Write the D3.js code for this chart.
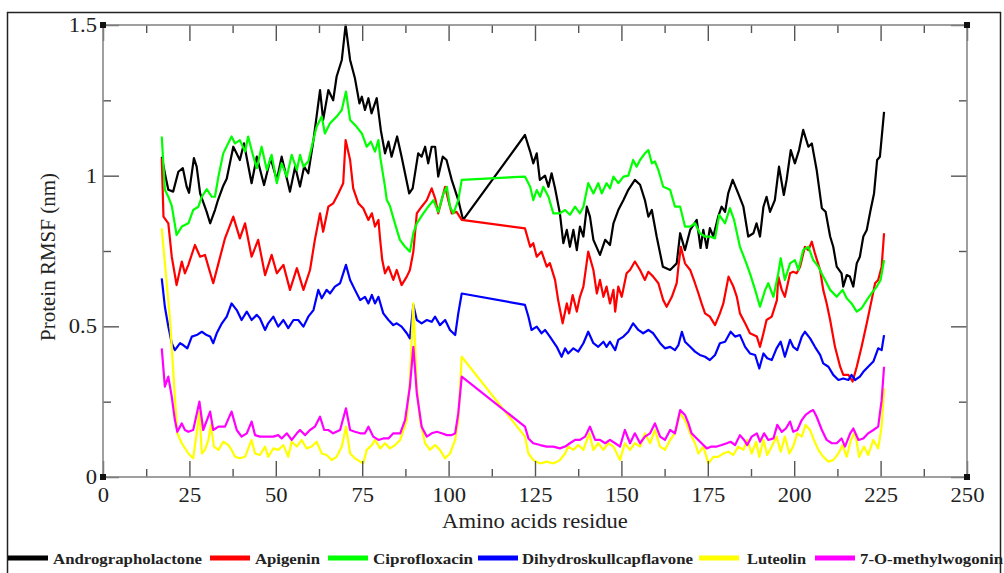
<!DOCTYPE html>
<html>
<head>
<meta charset="utf-8">
<script src="https://cdn.jsdelivr.net/npm/d3@7/dist/d3.min.js"></script>
<style>
  html, body { margin: 0; padding: 0; background: #fff; }
  svg { display: block; }
  .tick text { font-family: "Liberation Serif", "Times New Roman", serif; }
</style>
</head>
<body>
<svg id="chart" width="1004" height="573"></svg>
<script>
// Protein RMSF per residue, [residue, RMSF (nm)]
const andrographolactone = [[17.0,1.063],[17.9,1.008],[18.9,0.953],[20.3,0.947],[21.8,1.013],[23.1,1.025],[24.2,0.964],[24.9,0.943],[26.3,1.058],[27.1,1.03],[28.1,0.941],[30.0,0.88],[31.0,0.842],[32.4,0.886],[33.3,0.92],[34.7,0.964],[35.8,0.99],[37.7,1.096],[39.6,1.052],[40.8,1.107],[43.0,0.975],[44.5,1.063],[46.6,0.969],[48.5,1.058],[50.3,0.986],[51.7,1.063],[54.1,0.947],[55.6,1.03],[57.0,0.964],[58.2,1.03],[59.4,1.008],[60.9,1.118],[62.8,1.284],[63.7,1.185],[65.2,1.284],[66.6,1.25],[67.6,1.329],[69.1,1.384],[70.2,1.5],[71.5,1.384],[72.9,1.323],[74.2,1.24],[74.9,1.262],[75.8,1.218],[76.8,1.257],[77.7,1.207],[79.2,1.257],[80.4,1.15],[81.6,1.074],[82.6,1.113],[83.5,1.063],[85.1,1.13],[86.4,1.063],[88.6,0.941],[89.6,0.958],[91.2,1.074],[92.2,1.063],[93.2,1.096],[94.1,1.041],[95.1,1.096],[96.1,1.096],[97.0,0.997],[98.3,1.063],[99.4,1.052],[100.9,0.986],[102.8,0.919],[104.2,0.853],[122.1,1.135],[123.6,1.08],[124.5,1.041],[125.5,1.074],[126.4,0.986],[127.9,1.0],[128.9,0.963],[129.8,1.008],[130.8,0.958],[132.2,0.875],[133.2,0.776],[134.2,0.82],[135.1,0.764],[136.1,0.82],[137.1,0.753],[138.0,0.831],[139.0,0.798],[140.0,0.897],[140.9,0.864],[141.9,0.787],[143.8,0.737],[145.3,0.787],[146.7,0.77],[147.7,0.842],[149.1,0.886],[150.6,0.919],[152.0,0.953],[153.9,0.986],[155.4,0.97],[156.8,0.919],[157.8,0.864],[158.8,0.886],[160.2,0.798],[162.0,0.698],[164.1,0.687],[166.0,0.709],[167.0,0.809],[168.4,0.753],[169.9,0.82],[171.8,0.853],[172.9,0.76],[173.7,0.82],[174.7,0.76],[175.6,0.826],[176.6,0.798],[178.0,0.864],[179.0,0.897],[180.0,0.88],[180.9,0.941],[182.2,0.986],[183.8,0.941],[185.3,0.897],[186.7,0.798],[188.2,0.809],[189.1,0.842],[190.1,0.798],[191.1,0.897],[192.0,0.93],[193.0,0.88],[194.4,0.919],[195.6,1.03],[197.0,0.936],[197.8,0.986],[199.0,1.085],[200.2,1.041],[201.4,1.085],[202.6,1.152],[204.1,1.096],[205.1,1.107],[206.5,1.019],[208.0,0.892],[209.1,0.88],[210.4,0.798],[211.3,0.764],[212.3,0.698],[213.7,0.676],[214.2,0.632],[215.2,0.67],[216.1,0.665],[217.1,0.632],[218.1,0.709],[219.0,0.731],[220.0,0.798],[221.0,0.82],[222.1,0.886],[223.1,0.941],[224.0,1.052],[224.8,1.063],[226.0,1.212]];

const apigenin = [[17.0,1.058],[17.5,0.864],[18.9,0.842],[19.9,0.731],[21.3,0.637],[22.8,0.715],[23.7,0.676],[24.7,0.704],[26.6,0.77],[28.1,0.731],[29.5,0.737],[31.9,0.643],[33.4,0.709],[35.3,0.792],[37.7,0.864],[39.6,0.792],[41.1,0.842],[43.0,0.731],[44.9,0.787],[46.9,0.67],[48.8,0.737],[50.3,0.676],[52.2,0.704],[54.1,0.621],[56.1,0.693],[58.0,0.621],[59.9,0.687],[61.3,0.787],[62.8,0.875],[63.7,0.814],[65.2,0.897],[66.6,0.908],[68.1,0.941],[69.5,0.975],[70.2,1.118],[71.5,1.052],[72.4,0.958],[73.9,0.908],[75.3,0.892],[76.8,0.853],[77.8,0.875],[78.7,0.831],[79.7,0.853],[80.2,0.787],[80.8,0.72],[81.6,0.676],[82.6,0.698],[84.0,0.654],[85.0,0.687],[86.4,0.637],[87.9,0.665],[88.8,0.687],[89.8,0.748],[90.8,0.875],[92.2,0.897],[93.7,0.919],[95.1,0.958],[96.1,0.925],[97.0,0.875],[99.0,0.963],[99.9,0.919],[100.9,0.875],[102.3,0.88],[103.8,0.853],[122.1,0.825],[123.6,0.764],[124.5,0.776],[125.5,0.731],[126.9,0.748],[128.4,0.698],[129.3,0.71],[130.8,0.654],[131.7,0.587],[133.0,0.51],[134.2,0.576],[134.9,0.543],[135.9,0.604],[137.1,0.549],[138.0,0.598],[139.0,0.632],[140.4,0.748],[141.9,0.687],[142.9,0.609],[143.8,0.654],[144.8,0.598],[145.7,0.632],[146.7,0.576],[147.7,0.621],[148.2,0.549],[149.1,0.632],[150.1,0.598],[151.5,0.676],[152.5,0.687],[153.9,0.715],[155.4,0.687],[156.8,0.654],[157.8,0.681],[159.2,0.665],[160.7,0.643],[162.1,0.587],[163.1,0.565],[164.6,0.598],[166.0,0.643],[166.5,0.698],[167.2,0.764],[168.4,0.709],[169.9,0.687],[171.3,0.643],[172.3,0.609],[173.2,0.576],[174.2,0.543],[175.6,0.532],[177.1,0.504],[178.5,0.543],[179.5,0.576],[181.0,0.665],[182.4,0.632],[183.4,0.598],[184.3,0.543],[185.8,0.51],[187.2,0.477],[189.2,0.466],[190.1,0.432],[191.1,0.477],[192.0,0.521],[193.5,0.532],[195.0,0.587],[195.4,0.665],[196.4,0.621],[197.3,0.598],[198.8,0.676],[199.7,0.681],[200.7,0.676],[201.7,0.698],[203.1,0.764],[204.1,0.753],[205.1,0.781],[206.0,0.742],[207.5,0.687],[208.4,0.621],[209.4,0.576],[210.4,0.521],[211.8,0.432],[213.3,0.366],[214.2,0.339],[215.7,0.339],[216.9,0.317],[218.1,0.366],[219.5,0.432],[221.0,0.51],[222.4,0.587],[223.4,0.643],[224.3,0.654],[225.3,0.698],[226.0,0.809]];

const ciprofloxacin = [[17.0,1.13],[17.9,0.953],[18.9,0.93],[19.9,0.9],[21.3,0.803],[22.8,0.831],[24.7,0.842],[26.1,0.886],[27.6,0.897],[28.6,0.93],[30.0,0.955],[31.5,0.93],[32.4,0.93],[33.4,0.997],[34.8,1.074],[37.2,1.13],[38.2,1.107],[39.6,1.118],[41.1,1.08],[42.0,1.13],[43.5,1.063],[44.5,1.025],[45.9,1.096],[47.4,1.019],[48.8,1.069],[50.3,0.975],[51.7,1.041],[53.2,0.997],[54.6,1.069],[56.1,1.019],[57.0,1.069],[58.0,1.03],[59.4,1.047],[60.4,1.096],[61.8,1.162],[63.3,1.196],[64.2,1.14],[65.7,1.174],[67.6,1.196],[69.1,1.218],[70.3,1.279],[71.5,1.185],[73.4,1.162],[74.9,1.14],[76.3,1.096],[77.5,1.113],[78.7,1.08],[79.7,1.118],[80.2,1.063],[81.6,0.963],[82.1,0.92],[83.0,0.9],[84.0,0.86],[85.9,0.787],[87.4,0.764],[88.8,0.748],[89.8,0.809],[90.8,0.842],[92.7,0.875],[94.1,0.897],[95.6,0.919],[97.0,0.88],[98.5,0.941],[99.5,0.963],[100.4,0.897],[101.4,0.875],[102.8,0.919],[103.8,0.986],[122.1,0.997],[123.6,0.963],[124.5,0.919],[125.5,0.952],[126.5,0.93],[127.4,0.963],[128.9,0.93],[130.3,0.875],[132.2,0.875],[133.7,0.886],[135.1,0.87],[136.6,0.897],[138.0,0.875],[139.0,0.897],[140.4,0.975],[141.9,0.941],[143.3,0.975],[144.3,0.941],[145.7,0.975],[146.7,0.958],[147.7,0.997],[149.1,0.975],[150.6,0.997],[152.0,1.0],[153.4,1.052],[154.4,1.03],[155.4,1.052],[156.8,1.074],[157.8,1.085],[158.8,1.041],[159.7,1.047],[160.7,1.019],[162.1,0.963],[164.1,0.953],[165.5,0.897],[167.0,0.897],[168.4,0.831],[169.9,0.831],[171.3,0.842],[172.7,0.809],[174.2,0.798],[175.6,0.798],[177.1,0.792],[178.3,0.87],[180.0,0.842],[181.4,0.892],[182.6,0.853],[184.3,0.764],[185.8,0.72],[187.2,0.676],[188.7,0.621],[190.1,0.565],[191.6,0.621],[192.5,0.643],[194.0,0.598],[195.4,0.676],[196.1,0.726],[197.3,0.654],[198.8,0.709],[200.2,0.72],[201.2,0.687],[202.6,0.753],[204.1,0.764],[205.5,0.72],[207.0,0.698],[208.4,0.665],[210.4,0.621],[212.3,0.598],[214.0,0.621],[215.2,0.593],[216.6,0.576],[218.1,0.549],[219.5,0.56],[221.0,0.587],[222.4,0.61],[223.9,0.632],[225.0,0.654],[226.0,0.72]];

const dihydroskullcapflavone = [[17.0,0.659],[17.9,0.565],[18.9,0.499],[19.9,0.444],[20.8,0.421],[22.3,0.444],[23.2,0.438],[24.4,0.427],[25.7,0.466],[27.1,0.471],[28.6,0.482],[30.0,0.471],[31.0,0.466],[31.9,0.444],[32.9,0.477],[34.4,0.51],[35.8,0.532],[37.2,0.576],[38.7,0.554],[40.1,0.521],[41.6,0.549],[43.0,0.521],[44.5,0.538],[45.4,0.527],[46.9,0.488],[47.8,0.51],[49.3,0.532],[50.7,0.499],[52.2,0.521],[53.6,0.494],[55.1,0.521],[56.5,0.521],[58.0,0.499],[59.4,0.532],[60.9,0.554],[62.3,0.621],[63.3,0.593],[64.7,0.621],[65.7,0.609],[67.1,0.632],[68.6,0.643],[70.3,0.704],[71.5,0.654],[72.9,0.621],[74.4,0.587],[75.8,0.598],[76.8,0.576],[77.8,0.604],[78.7,0.576],[79.7,0.598],[81.1,0.543],[82.6,0.521],[84.0,0.504],[85.0,0.51],[86.4,0.499],[87.9,0.477],[88.8,0.46],[89.8,0.571],[90.8,0.521],[92.2,0.51],[93.7,0.521],[95.1,0.515],[96.1,0.532],[97.5,0.504],[99.0,0.521],[100.4,0.488],[101.9,0.471],[102.8,0.543],[103.8,0.609],[122.1,0.571],[123.1,0.532],[124.0,0.488],[125.5,0.499],[126.9,0.477],[127.9,0.488],[129.3,0.466],[131.3,0.432],[132.7,0.399],[133.7,0.427],[134.6,0.41],[136.1,0.427],[137.5,0.416],[139.0,0.444],[140.4,0.482],[141.9,0.444],[143.3,0.432],[144.8,0.449],[145.7,0.432],[146.7,0.449],[148.2,0.421],[149.1,0.455],[150.6,0.466],[152.0,0.482],[153.4,0.51],[154.9,0.488],[156.3,0.477],[157.8,0.488],[159.2,0.477],[161.2,0.444],[162.6,0.427],[164.1,0.432],[165.5,0.421],[166.5,0.438],[167.5,0.482],[168.4,0.449],[169.9,0.432],[171.3,0.416],[172.7,0.405],[174.2,0.399],[175.6,0.388],[177.1,0.405],[178.5,0.444],[180.0,0.449],[181.6,0.482],[182.9,0.466],[184.3,0.471],[185.8,0.432],[187.2,0.41],[188.7,0.405],[189.9,0.36],[191.1,0.41],[192.2,0.394],[193.5,0.388],[194.9,0.427],[196.1,0.449],[197.3,0.399],[198.8,0.455],[199.7,0.432],[200.9,0.421],[202.2,0.466],[203.1,0.482],[204.6,0.46],[206.0,0.432],[207.5,0.405],[208.4,0.377],[209.9,0.366],[211.3,0.339],[212.8,0.322],[214.2,0.327],[215.7,0.322],[216.6,0.339],[217.6,0.322],[219.0,0.333],[220.0,0.349],[221.4,0.366],[222.9,0.383],[224.3,0.427],[225.3,0.421],[226.0,0.471]];

const luteolin = [[17.0,0.825],[19.4,0.52],[20.8,0.266],[21.5,0.145],[22.8,0.112],[24.7,0.078],[26.1,0.062],[27.1,0.145],[27.9,0.217],[28.6,0.078],[29.5,0.09],[30.5,0.123],[31.2,0.173],[32.1,0.101],[33.4,0.09],[34.8,0.117],[36.3,0.106],[37.2,0.09],[38.2,0.067],[39.6,0.062],[41.1,0.067],[43.0,0.123],[44.0,0.078],[45.4,0.073],[46.9,0.101],[47.8,0.067],[49.3,0.095],[50.7,0.09],[52.2,0.106],[53.6,0.067],[54.6,0.117],[56.1,0.101],[57.5,0.123],[58.9,0.095],[60.4,0.101],[61.8,0.117],[63.3,0.078],[64.7,0.073],[66.2,0.056],[67.6,0.067],[69.1,0.101],[70.3,0.167],[71.5,0.078],[72.9,0.062],[74.4,0.051],[75.3,0.045],[76.3,0.09],[77.8,0.106],[78.7,0.123],[80.2,0.095],[81.6,0.112],[83.0,0.095],[84.5,0.106],[86.0,0.123],[87.9,0.189],[88.8,0.322],[89.8,0.576],[90.8,0.3],[91.7,0.189],[93.2,0.112],[94.6,0.09],[96.1,0.106],[97.5,0.09],[99.0,0.062],[100.4,0.078],[101.9,0.123],[102.8,0.189],[103.8,0.399],[122.1,0.134],[123.1,0.078],[124.5,0.056],[126.5,0.045],[128.4,0.051],[130.3,0.045],[132.2,0.056],[133.7,0.078],[134.6,0.101],[136.1,0.09],[137.5,0.106],[139.0,0.09],[140.7,0.145],[141.9,0.09],[143.3,0.112],[144.8,0.09],[146.2,0.112],[147.7,0.101],[149.6,0.056],[151.0,0.112],[152.5,0.09],[153.9,0.112],[155.4,0.101],[156.8,0.145],[158.3,0.112],[159.7,0.156],[161.2,0.101],[162.6,0.09],[164.1,0.123],[165.5,0.145],[167.0,0.211],[168.4,0.189],[169.9,0.145],[171.3,0.112],[172.3,0.078],[173.7,0.101],[175.2,0.045],[176.6,0.067],[178.0,0.067],[179.5,0.078],[180.9,0.084],[182.4,0.073],[183.8,0.101],[185.3,0.09],[186.4,0.123],[187.7,0.078],[189.0,0.117],[189.9,0.067],[191.1,0.123],[192.2,0.073],[193.5,0.101],[194.9,0.134],[196.1,0.084],[197.3,0.134],[198.6,0.078],[199.7,0.101],[200.9,0.145],[202.2,0.134],[203.3,0.173],[204.6,0.156],[205.7,0.123],[207.0,0.09],[208.4,0.067],[209.9,0.051],[211.3,0.056],[212.8,0.078],[214.0,0.106],[215.2,0.067],[216.4,0.123],[217.6,0.15],[218.8,0.067],[220.2,0.101],[221.4,0.073],[222.9,0.123],[224.3,0.095],[225.3,0.167],[226.0,0.294]];

const methylwogonin = [[17.0,0.427],[17.9,0.3],[18.9,0.333],[19.9,0.266],[20.8,0.189],[21.5,0.15],[22.8,0.178],[23.7,0.156],[24.7,0.15],[26.1,0.156],[27.9,0.25],[29.0,0.156],[31.0,0.217],[31.9,0.156],[33.4,0.167],[35.3,0.167],[37.2,0.217],[38.7,0.156],[40.1,0.134],[41.6,0.145],[43.0,0.184],[44.0,0.139],[45.4,0.134],[47.4,0.134],[49.3,0.134],[50.7,0.139],[51.7,0.128],[53.2,0.145],[54.6,0.123],[56.1,0.145],[57.0,0.156],[58.5,0.139],[59.9,0.156],[61.3,0.167],[62.8,0.2],[64.0,0.156],[65.2,0.156],[66.6,0.145],[68.6,0.156],[70.3,0.228],[71.5,0.156],[72.9,0.15],[74.4,0.145],[75.8,0.145],[76.8,0.167],[78.2,0.134],[79.7,0.123],[81.1,0.128],[82.6,0.128],[84.0,0.145],[86.0,0.145],[87.4,0.189],[88.8,0.3],[89.8,0.432],[90.8,0.278],[92.2,0.167],[93.7,0.134],[95.1,0.145],[96.6,0.15],[98.0,0.145],[99.5,0.139],[100.9,0.139],[101.9,0.145],[102.8,0.211],[103.8,0.333],[122.1,0.167],[123.1,0.128],[124.5,0.112],[126.5,0.106],[128.4,0.101],[130.3,0.101],[132.2,0.095],[133.7,0.101],[135.1,0.112],[136.6,0.123],[138.0,0.123],[139.5,0.134],[140.9,0.167],[142.4,0.123],[143.8,0.123],[145.3,0.112],[146.7,0.123],[148.2,0.112],[149.6,0.101],[151.0,0.156],[152.5,0.112],[153.9,0.145],[155.4,0.112],[156.8,0.134],[158.3,0.145],[159.7,0.178],[161.2,0.134],[162.6,0.123],[164.1,0.156],[165.5,0.145],[167.0,0.222],[168.4,0.206],[169.4,0.178],[170.3,0.145],[171.8,0.128],[173.2,0.112],[174.7,0.095],[176.1,0.101],[177.6,0.101],[179.0,0.106],[180.5,0.112],[181.6,0.117],[182.9,0.106],[184.3,0.139],[185.5,0.123],[186.4,0.106],[187.7,0.134],[189.2,0.145],[190.1,0.117],[191.3,0.145],[192.5,0.123],[194.0,0.128],[195.1,0.173],[196.4,0.15],[197.6,0.161],[198.8,0.184],[199.7,0.15],[200.9,0.156],[202.2,0.189],[203.3,0.206],[204.6,0.217],[205.5,0.222],[206.5,0.2],[208.0,0.156],[209.4,0.123],[210.9,0.112],[212.3,0.112],[213.7,0.128],[214.7,0.101],[216.2,0.145],[217.1,0.161],[218.6,0.123],[220.0,0.128],[221.4,0.145],[222.9,0.156],[224.3,0.167],[225.3,0.255],[226.0,0.366]];

const seriesNames = ["Andrographolactone", "Apigenin", "Ciprofloxacin", "Dihydroskullcapflavone", "Luteolin", "7-O-methylwogonin"];
const seriesData = [andrographolactone, apigenin, ciprofloxacin, dihydroskullcapflavone, luteolin, methylwogonin];
const seriesColors = ["#000000", "#ff0000", "#00ff00", "#0000ff", "#ffff00", "#ff00ff"];

const xMajorTicks = [0, 25, 50, 75, 100, 125, 150, 175, 200, 225, 250];
const xMinorTicks = [12.5, 37.5, 62.5, 87.5, 112.5, 137.5, 162.5, 187.5, 212.5, 237.5];
const yMajorTicks = [0, 0.5, 1, 1.5];
const yMinorTicks = [0.25, 0.75, 1.25];
const yTickLabels = ["0", "0.5", "1", "1.5"];

const xTitle = "Amino acids residue";
const yTitle = "Protein RMSF (nm)";

// ---- layout ----
const svg = d3.select("#chart");
const W = 1004, H = 573;
const plot = { left: 103, right: 967, top: 25, bottom: 477 };

svg.append("rect").attr("width", W).attr("height", H).attr("fill", "#fff");

// outer frame of the figure
svg.append("rect")
  .attr("x", 7.5).attr("y", 12.5)
  .attr("width", 993).attr("height", 600)
  .attr("fill", "none").attr("stroke", "#222").attr("stroke-width", 1.5);

const x = d3.scaleLinear().domain([0, 250]).range([plot.left, plot.right]);
const y = d3.scaleLinear().domain([0, 1.5]).range([plot.bottom, plot.top]);

const serif = "'Liberation Serif', 'Times New Roman', serif";
const stretch = 1.13;

function widen(sel) {
  sel.each(function () {
    const w = this.getComputedTextLength();
    d3.select(this).attr("textLength", w * stretch).attr("lengthAdjust", "spacingAndGlyphs");
  });
}

// ---- series ----
const line = d3.line().x(d => x(d[0])).y(d => y(d[1]));
const gLines = svg.append("g");
seriesData.forEach((data, i) => {
  gLines.append("path")
    .datum(data)
    .attr("d", line)
    .attr("fill", "none")
    .attr("stroke", seriesColors[i])
    .attr("stroke-width", 2.2)
    .attr("stroke-linejoin", "round");
});

// ---- axes ----
function styleAxis(g) {
  g.select(".domain").remove();
  g.selectAll(".tick line").attr("stroke", "#555").attr("stroke-width", 1.4);
}

const axB = svg.append("g").attr("transform", `translate(0,${plot.bottom})`)
  .call(d3.axisBottom(x).tickValues(xMajorTicks).tickSize(-16).tickPadding(11).tickFormat(d3.format("d")));
axB.call(styleAxis);
axB.selectAll("text").attr("font-size", 20).attr("fill", "#222").attr("font-family", serif).call(widen);

svg.append("g").attr("transform", `translate(0,${plot.bottom})`)
  .call(d3.axisBottom(x).tickValues(xMinorTicks).tickSize(-8).tickFormat(""))
  .call(styleAxis);

svg.append("g").attr("transform", `translate(0,${plot.top})`)
  .call(d3.axisTop(x).tickValues(xMajorTicks).tickSize(-16).tickFormat(""))
  .call(styleAxis);
svg.append("g").attr("transform", `translate(0,${plot.top})`)
  .call(d3.axisTop(x).tickValues(xMinorTicks).tickSize(-8).tickFormat(""))
  .call(styleAxis);

const axL = svg.append("g").attr("transform", `translate(${plot.left},0)`)
  .call(d3.axisLeft(y).tickValues(yMajorTicks).tickSize(-16).tickPadding(6)
    .tickFormat((d, i) => yTickLabels[i]));
axL.call(styleAxis);
axL.selectAll("text").attr("font-size", 20).attr("fill", "#222").attr("font-family", serif).call(widen);

svg.append("g").attr("transform", `translate(${plot.left},0)`)
  .call(d3.axisLeft(y).tickValues(yMinorTicks).tickSize(-8).tickFormat(""))
  .call(styleAxis);
svg.append("g").attr("transform", `translate(${plot.right},0)`)
  .call(d3.axisRight(y).tickValues(yMajorTicks).tickSize(-16).tickFormat(""))
  .call(styleAxis);
svg.append("g").attr("transform", `translate(${plot.right},0)`)
  .call(d3.axisRight(y).tickValues(yMinorTicks).tickSize(-8).tickFormat(""))
  .call(styleAxis);

// plot frame
svg.append("rect")
  .attr("x", plot.left).attr("y", plot.top)
  .attr("width", plot.right - plot.left).attr("height", plot.bottom - plot.top)
  .attr("fill", "none").attr("stroke", "#888").attr("stroke-width", 1.6);

// corner markers
const corners = [[0, 0], [0, 1.5], [250, 1.5], [250, 0]];
svg.append("g").selectAll("rect").data(corners).join("rect")
  .attr("x", d => x(d[0]) - 3).attr("y", d => y(d[1]) - 3)
  .attr("width", 6).attr("height", 6).attr("fill", "#111");

// ---- titles ----
svg.append("text")
  .attr("x", 535).attr("y", 528)
  .attr("text-anchor", "middle")
  .attr("font-family", serif).attr("font-size", 20).attr("fill", "#222")
  .text(xTitle).call(widen);

svg.append("text")
  .attr("transform", "translate(55,257) rotate(-90)")
  .attr("text-anchor", "middle")
  .attr("font-family", serif).attr("font-size", 21).attr("fill", "#222")
  .text(yTitle);

// ---- legend ----
const legendSwatchX = [8, 210, 328, 478, 699, 815];
const legendTextX = [53, 255, 373, 522, 747, 860];
const legendTextW = [149, 65, 100, 171, 59, 143];
const gLegend = svg.append("g");
seriesNames.forEach((name, i) => {
  gLegend.append("line")
    .attr("x1", legendSwatchX[i]).attr("x2", legendSwatchX[i] + 40)
    .attr("y1", 558).attr("y2", 558)
    .attr("stroke", seriesColors[i]).attr("stroke-width", 5);
  gLegend.append("text")
    .attr("x", legendTextX[i]).attr("y", 564)
    .attr("font-family", serif).attr("font-weight", "bold").attr("font-size", 15)
    .attr("fill", "#222")
    .attr("textLength", legendTextW[i]).attr("lengthAdjust", "spacingAndGlyphs")
    .text(name);
});
</script>
</body>
</html>
